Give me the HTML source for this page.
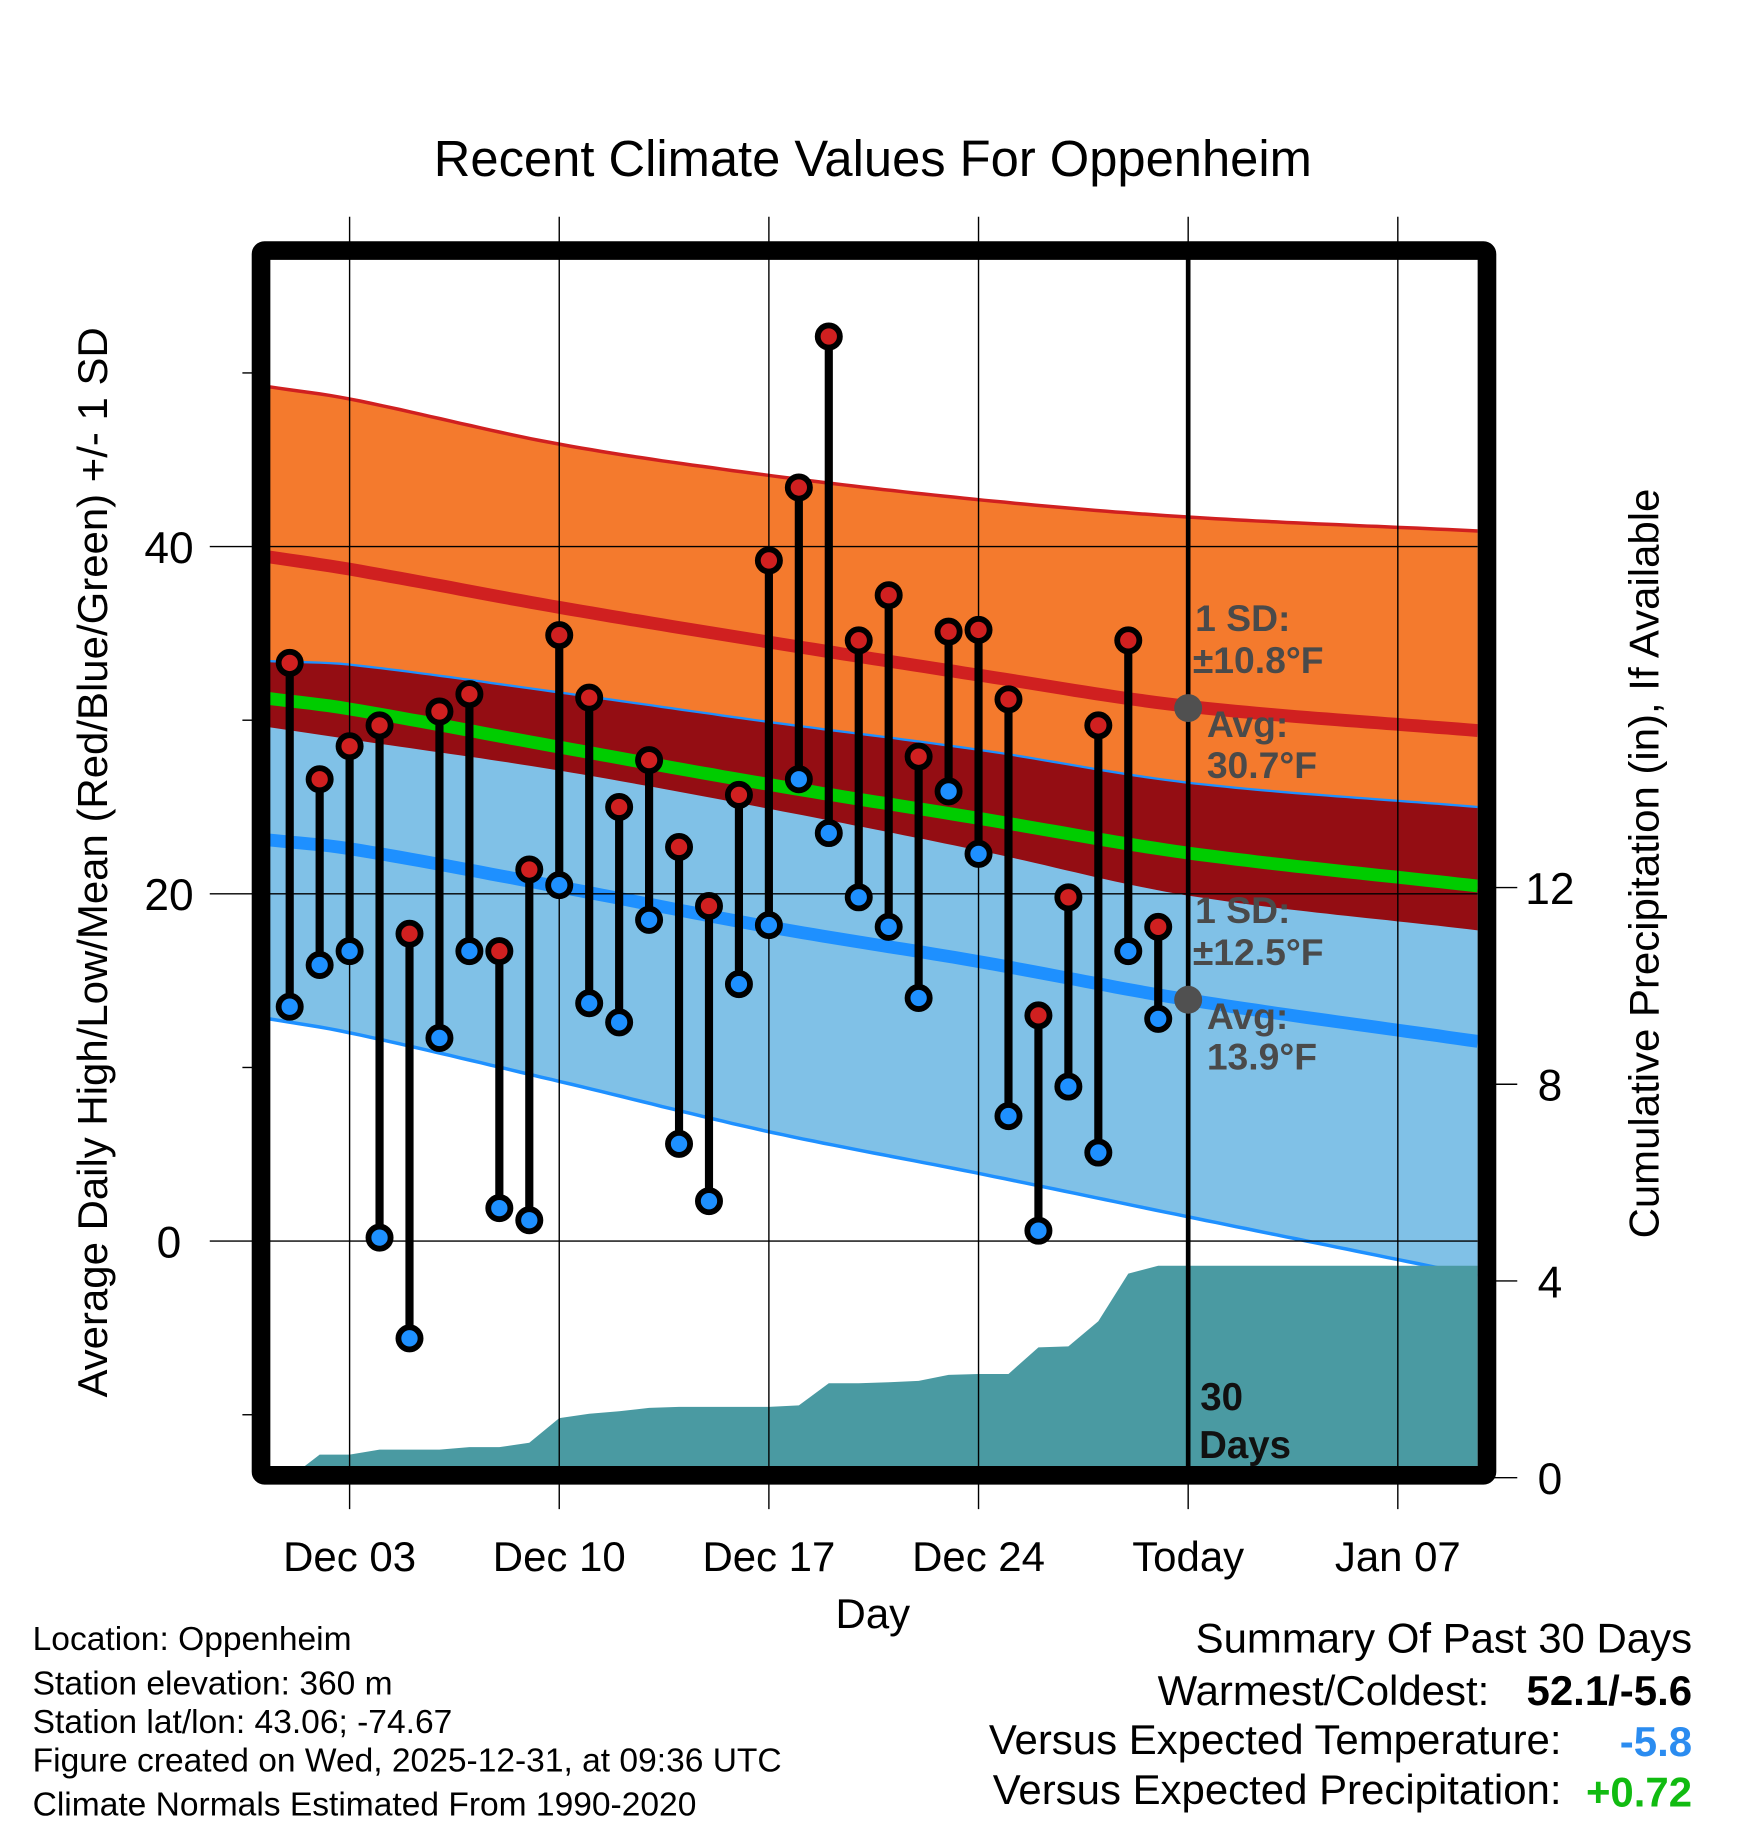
<!DOCTYPE html>
<html><head><meta charset="utf-8">
<style>
html,body{margin:0;padding:0;background:#fff;}
svg{display:block;font-family:"Liberation Sans",Arial,sans-serif;}
</style></head>
<body>
<svg id="chart" xmlns="http://www.w3.org/2000/svg" width="1748" height="1828" viewBox="0 0 1500 1568.6">
<rect x="0" y="0" width="1500" height="1568.6" fill="#fff"/>
<g id="plot"></g>
<text x="749" y="151" font-size="43.5" text-anchor="middle">Recent Climate Values For Oppenheim</text>
<text transform="translate(92,740) rotate(-90)" font-size="36" text-anchor="middle">Average Daily High/Low/Mean (Red/Blue/Green) +/- 1 SD</text>
<text transform="translate(1423,741) rotate(-90)" font-size="36" text-anchor="middle">Cumulative Precipitation (in), If Available</text>
<text x="749" y="1397" font-size="36" text-anchor="middle">Day</text>
<g font-size="28.8">
<text x="28" y="1416">Location: Oppenheim</text>
<text x="28" y="1454">Station elevation: 360 m</text>
<text x="28" y="1487">Station lat/lon: 43.06; -74.67</text>
<text x="28" y="1520">Figure created on Wed, 2025-12-31, at 09:36 UTC</text>
<text x="28" y="1558">Climate Normals Estimated From 1990-2020</text>
</g>
<g font-size="36">
<text x="1452" y="1418" text-anchor="end">Summary Of Past 30 Days</text>
<text x="1278" y="1463" text-anchor="end">Warmest/Coldest:</text>
<text x="1452" y="1463" text-anchor="end" font-weight="bold">52.1/-5.6</text>
<text x="1340" y="1505" text-anchor="end">Versus Expected Temperature:</text>
<text x="1452" y="1507" text-anchor="end" font-weight="bold" fill="#2b8cf0">-5.8</text>
<text x="1340" y="1548" text-anchor="end">Versus Expected Precipitation:</text>
<text x="1452" y="1550" text-anchor="end" font-weight="bold" fill="#11bb11">+0.72</text>
</g>
</svg>
<script>
// ---- data ----
const normDays = [-0.68, 2, 9, 16, 23, 30, 39.67];
const normHigh = [39.4, 38.7, 36.5, 34.5, 32.6, 30.8, 29.4];
const normHighSD = [9.8, 9.8, 9.4, 9.6, 10.1, 10.9, 11.5];
const normLow = [23.1, 22.6, 20.4, 18.1, 16.1, 13.9, 11.5];
const normLowSD = [10.3, 10.6, 11.2, 11.8, 12.2, 12.5, 13.5];
const highs = [33.3,26.6,28.5,29.7,17.7,30.5,31.5,16.7,21.4,34.9,31.3,25.0,27.7,22.7,19.3,25.7,39.2,43.4,52.1,34.6,37.2,27.9,35.1,35.2,31.2,13.0,19.8,29.7,34.6,18.1];
const lows = [13.5,15.9,16.7,0.2,-5.6,11.7,16.7,1.9,1.2,20.5,13.7,12.6,18.5,5.6,2.3,14.8,18.2,26.6,23.5,19.8,18.1,14.0,25.9,22.3,7.2,0.6,8.9,5.1,16.7,12.8];
const precipCum = [0,0.47,0.47,0.57,0.57,0.57,0.62,0.62,0.71,1.21,1.30,1.35,1.42,1.44,1.44,1.44,1.44,1.47,1.92,1.92,1.94,1.97,2.09,2.11,2.11,2.65,2.67,3.18,4.15,4.31];
const xTickLabels = ["Dec 03","Dec 10","Dec 17","Dec 24","Today","Jan 07"];
const xTickDays = [2,9,16,23,30,37];
const yTicks = [40,20,0];
const yMinorTicks = [50,30,10,-10];
const y2Ticks = [0,4,8,12];
const todayDay = 30;
const avgHighToday = 30.7, avgLowToday = 13.9;

// ---- axes ----
const L=231, R=1268, T=222, B=1259;
const xs = d => 248.6 + d*25.7;
const ys = v => 1065 - v*14.9;
const yp = p => 1268 - p*42.2;
const NS='http://www.w3.org/2000/svg';
const plot=document.getElementById('plot');
function mk(tag, attrs, parent){const e=document.createElementNS(NS,tag);for(const k in attrs)e.setAttribute(k,attrs[k]);(parent||plot).appendChild(e);return e;}
// smooth (Catmull-Rom style) interpolation through normal points
function interp(arr,d){const n=normDays.length;let i=0;while(i<n-2&&d>normDays[i+1])i++;
const x0=normDays[i],x1=normDays[i+1],t=Math.max(0,Math.min(1,(d-x0)/(x1-x0)));
const p0=arr[i],p1=arr[i+1];
const m0=i>0?(arr[i+1]-arr[i-1])/(normDays[i+1]-normDays[i-1]):(p1-p0)/(x1-x0);
const m1=i+2<n?(arr[i+2]-arr[i])/(normDays[i+2]-normDays[i]):(p1-p0)/(x1-x0);
const h=x1-x0,t2=t*t,t3=t2*t;
return (2*t3-3*t2+1)*p0+(t3-2*t2+t)*h*m0+(-2*t3+3*t2)*p1+(t3-t2)*h*m1;}
const samples=[];for(let i=0;i<=120;i++){samples.push(normDays[0]+(normDays[normDays.length-1]-normDays[0])*i/120);}
function curve(f){return samples.map(d=>xs(d).toFixed(1)+','+ys(f(d)).toFixed(1));}
const hU=d=>interp(normHigh,d)+interp(normHighSD,d), hL=d=>interp(normHigh,d)-interp(normHighSD,d);
const lU=d=>interp(normLow,d)+interp(normLowSD,d), lL=d=>interp(normLow,d)-interp(normLowSD,d);
const hM=d=>interp(normHigh,d), lM=d=>interp(normLow,d), mM=d=>(interp(normHigh,d)+interp(normLow,d))/2;

const defs=mk('defs',{});
const cp=mk('clipPath',{id:'clip'},defs); mk('rect',{x:L,y:T,width:R-L,height:B-T},cp);
const g=mk('g',{'clip-path':'url(#clip)'});


function band(fu,fl,fill,name){const p=mk('polygon',{points:curve(fu).concat(curve(fl).reverse()).join(' '),fill:fill},g);

}
function line(f,stroke,w,name){const p=mk('polyline',{points:curve(f).join(' '),fill:'none',stroke:stroke,'stroke-width':w},g);

}
band(hU,hL,'#f47a2d','high-sd-band');
band(lU,lL,'#80c1e7','low-sd-band');
band(lU,hL,'#940d13','overlap-band');
line(hU,'#d02020',3,'high-upper-sd-line');
line(lU,'#1e90ff',2,'low-upper-sd-line');
line(lL,'#1e90ff',3,'low-lower-sd-line');
line(hM,'#d02020',11,'normal-high-line');
line(lM,'#1e90ff',11,'normal-low-line');
line(mM,'#00cc00',11,'normal-mean-line');
// precip
let pts=precipCum.map((p,i)=>xs(i).toFixed(1)+','+yp(p).toFixed(1));
pts.push(R+','+yp(precipCum[precipCum.length-1]).toFixed(1));
pts.push(R+','+(B+20));pts.push(xs(0)+','+(B+20));
const pa=mk('polygon',{points:pts.join(' '),fill:'#4a9aa2'},g);


// gridlines
xTickDays.forEach((d,i)=>{const l=mk('line',{x1:xs(d),x2:xs(d),y1:186,y2:1295,stroke:'#000','stroke-width':1.2});


const t=mk('text',{x:xs(d),y:1348,'font-size':36,'text-anchor':'middle'});t.textContent=xTickLabels[i];

});
yTicks.forEach(v=>{const l=mk('line',{x1:180,x2:R,y1:ys(v),y2:ys(v),stroke:'#000','stroke-width':1.2});


const t=mk('text',{x:145,y:ys(v)+14,'font-size':38,'text-anchor':'middle'});t.textContent=v;

});
yMinorTicks.forEach(v=>{const l=mk('line',{x1:208,x2:218,y1:ys(v),y2:ys(v),stroke:'#000','stroke-width':1.2});

});
y2Ticks.forEach(p=>{const l=mk('line',{x1:1282,x2:1302,y1:yp(p),y2:yp(p),stroke:'#000','stroke-width':1.2});


const t=mk('text',{x:1330,y:yp(p)+14,'font-size':38,'text-anchor':'middle'});t.textContent=p;

});
// today line
const tl=mk('line',{x1:xs(todayDay),x2:xs(todayDay),y1:T,y2:B,stroke:'#000','stroke-width':4});


// stems
highs.forEach((h,i)=>{const x=xs(i);
const s=mk('line',{x1:x,x2:x,y1:ys(h),y2:ys(lows[i]),stroke:'#000','stroke-width':7});


const c1=mk('circle',{cx:x,cy:ys(h),r:9.5,fill:'#d02020',stroke:'#000','stroke-width':5});


const c2=mk('circle',{cx:x,cy:ys(lows[i]),r:9.5,fill:'#1e90ff',stroke:'#000','stroke-width':5});

});
// avg markers and labels
[[avgHighToday,'10.8'],[avgLowToday,'12.5']].forEach(([a,sd])=>{const y=ys(a),x=xs(todayDay);
const c=mk('circle',{cx:x,cy:y,r:12,fill:'#505050'});


const t=mk('text',{'font-size':32,'font-weight':'bold',fill:'#4a4a4a'});


[[x+6,y-66,'1 SD:'],[x+4,y-30,'\u00b1'+sd+'\u00b0F'],[x+16,y+25,'Avg:'],[x+16,y+60,a.toFixed(1)+'\u00b0F']].forEach(([tx,ty,s])=>{const ts=mk('tspan',{x:tx,y:ty},t);ts.textContent=s;});});
const dt=mk('text',{'font-size':33,'font-weight':'bold',fill:'#111'});


const d1=mk('tspan',{x:1030,y:1210},dt);d1.textContent='30';
const d2=mk('tspan',{x:1029,y:1251},dt);d2.textContent='Days';
// frame
const fr=mk('rect',{x:224,y:215,width:1052,height:1051,fill:'none',stroke:'#000','stroke-width':16,rx:3});


</script>
</body></html>
